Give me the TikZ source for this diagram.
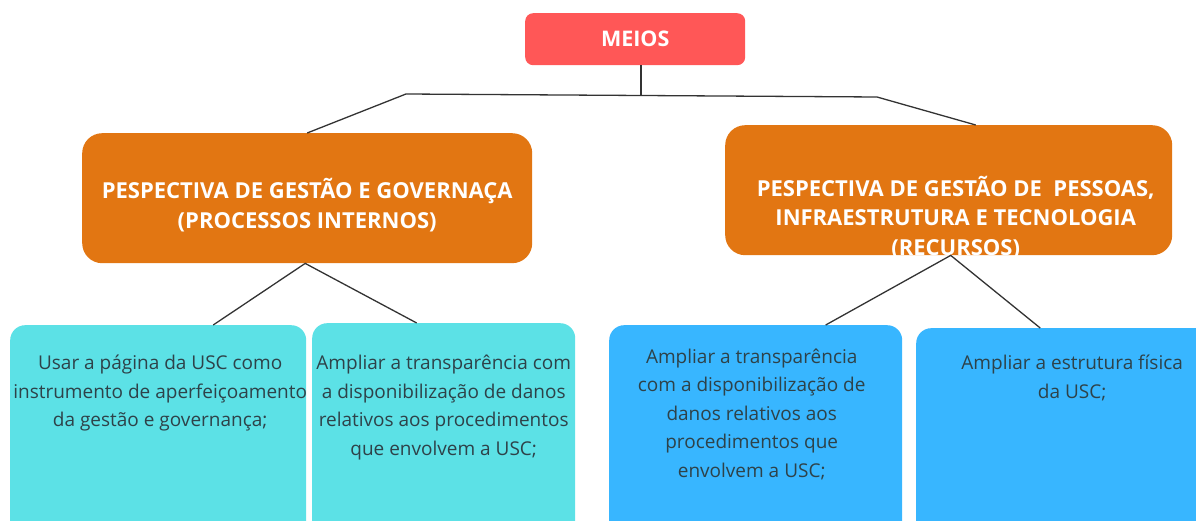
\documentclass[tikz,border=0pt]{standalone}
\usepackage{fontspec}
\setmainfont{Open Sans}
\usetikzlibrary{positioning}
\definecolor{meiosred}{HTML}{FF5757}
\definecolor{perspor}{HTML}{E27612}
\definecolor{acaocyan}{HTML}{5CE1E6}
\definecolor{acaoblue}{HTML}{38B6FF}
\definecolor{acaotxt}{HTML}{2E4249}
\definecolor{linegray}{HTML}{333333}
\begin{document}
\begin{tikzpicture}[
    x=1pt, y=-1pt,
    box/.style={rectangle, inner sep=0pt, anchor=north west},
    head/.style={box, rounded corners=20pt, fill=perspor},
    acao/.style={box, rounded corners=15pt},
    headtxt/.style={align=center, text=white, inner sep=0pt, font=\fontsize{22}{29.5}\selectfont\bfseries},
    acaotext/.style={align=center, text=acaotxt, inner sep=0pt, font=\fontsize{19}{28.5}\selectfont},
    link/.style={draw=linegray, line width=1.3pt}
]
\useasboundingbox (0,0) rectangle (1196,521);
\clip (0,0) rectangle (1196,521);

% Top: root
\node[box, rounded corners=8pt, fill=meiosred, minimum width=220pt, minimum height=52pt] (meios) at (525,13) {};
\node[headtxt, font=\fontsize{21.5}{26}\selectfont\bfseries] (meiostxt) at (meios.center) {MEIOS};

% Middle row: perspectives
\node[head, minimum width=450pt, minimum height=130pt] (gestao) at (82,133) {};
\node[headtxt] (gestaotxt) at ([yshift=-7pt]gestao.center) {PESPECTIVA DE GESTÃO E GOVERNAÇA\\(PROCESSOS INTERNOS)};
\node[head, minimum width=447pt, minimum height=130pt] (pessoas) at (725,125) {};
\node[headtxt] (pessoastxt) at ([xshift=7pt,yshift=-27pt]pessoas.center) {PESPECTIVA DE GESTÃO DE \ PESSOAS,\\INFRAESTRUTURA E TECNOLOGIA\\(RECURSOS)};

% Bottom row: actions
\node[acao, fill=acaocyan, minimum width=296pt, minimum height=240pt] (pagina) at (10,325) {};
\node[acao, fill=acaocyan, minimum width=263pt, minimum height=240pt] (transp) at (312,323) {};
\node[acao, fill=acaoblue, minimum width=293pt, minimum height=240pt] (transpb) at (609,325) {};
\node[acao, fill=acaoblue, minimum width=300pt, minimum height=240pt] (estrutura) at (916,328) {};

\node[acaotext, below=30pt of pagina.north, xshift=2pt] (paginatxt) {Usar a página da USC como\\instrumento de aperfeiçoamento\\da gestão e governança;};
\node[acaotext, below=32pt of transp.north] (transptxt) {Ampliar a transparência com\\a disponibilização de danos\\relativos aos procedimentos\\que envolvem a USC;};
\node[acaotext, below=23.5pt of transpb.north, xshift=-4pt] (transpbtxt) {Ampliar a transparência\\com a disponibilização de\\danos relativos aos\\procedimentos que\\envolvem a USC;};
\node[acaotext, below=27pt of estrutura.north, xshift=6pt] (estruturatxt) {Ampliar a estrutura física\\da USC;};

% Connectors
\coordinate (hub) at (641,95);
\coordinate (hubL) at (406,94);
\coordinate (hubR) at (877,97);
\draw[link] (meios.south -| hub) -- (hub);
\draw[link] (gestao.north) -- (hubL) -- (hubR) -- ([xshift=27pt]pessoas.north);
\draw[link] ([xshift=55pt]pagina.north) -- ([xshift=-2pt]gestao.south) -- ([xshift=-27pt]transp.north);
\draw[link] ([xshift=70pt]transpb.north) -- ([xshift=2pt]pessoas.south) -- ([xshift=-26pt]estrutura.north);

\end{tikzpicture}
\end{document}
